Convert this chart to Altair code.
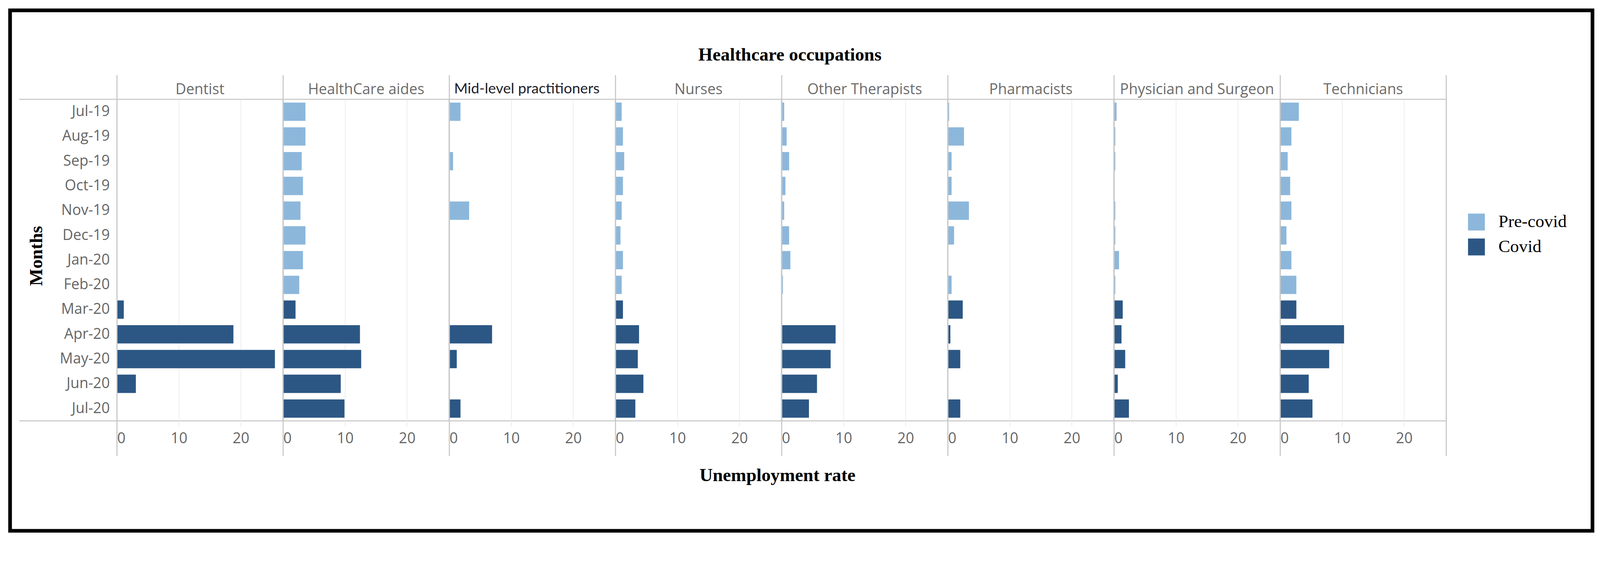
import altair as alt
import pandas as pd

# ---------------- data ----------------
occupations = [
    "Dentist", "HealthCare aides", "Mid-level practitioners", "Nurses",
    "Other Therapists", "Pharmacists", "Physician and Surgeon", "Technicians",
]
months = [
    "Jul-19", "Aug-19", "Sep-19", "Oct-19", "Nov-19", "Dec-19", "Jan-20",
    "Feb-20", "Mar-20", "Apr-20", "May-20", "Jun-20", "Jul-20",
]
periods = ["Pre-covid"] * 8 + ["Covid"] * 5
period_order = ["Pre-covid", "Covid"]

dentist = [None, None, None, None, None, None, None, None, 1.1, 18.8, 25.5, 3.05, None]
aides = [3.6, 3.6, 3.0, 3.2, 2.8, 3.6, 3.2, 2.6, 2.0, 12.4, 12.6, 9.3, 9.9]
midlevel = [1.8, None, 0.6, None, 3.2, None, None, None, None, 6.9, 1.2, None, 1.8]
nurses = [1.0, 1.2, 1.4, 1.2, 1.0, 0.8, 1.2, 1.0, 1.2, 3.8, 3.6, 4.5, 3.2]
therapists = [0.4, 0.8, 1.2, 0.6, 0.4, 1.2, 1.4, 0.2, None, 8.7, 7.9, 5.7, 4.4]
pharmacists = [0.2, 2.6, 0.6, 0.6, 3.4, 1.0, None, 0.6, 2.4, 0.4, 2.0, None, 2.0]
physicians = [0.4, 0.2, 0.2, None, 0.2, 0.2, 0.8, 0.2, 1.4, 1.2, 1.8, 0.6, 2.4]
technicians = [3.0, 1.8, 1.2, 1.6, 1.8, 1.0, 1.8, 2.6, 2.6, 10.3, 7.9, 4.6, 5.2]

series = [dentist, aides, midlevel, nurses, therapists, pharmacists, physicians, technicians]
tick_values = [0, 10, 20]
x_max = 26.8

chart_title = "Healthcare occupations"
x_title = "Unemployment rate"
y_title = "Months"

rows = []
for occ, vals in zip(occupations, series):
    for m, p, v in zip(months, periods, vals):
        rows.append({"occupation": occ, "month": m, "period": p, "rate": v})
df = pd.DataFrame(rows)

# ---------------- styling ----------------
W = 453.5
H = 878
LIGHT = "#8cb7db"
DARK = "#2c5784"
SEP = "#c8c8c8"
GRID = "#ececec"
SANS = "Open Sans"
SERIF = "Liberation Serif"
HEADER_GREY = "#6b6b6b"

base = alt.Chart()

bars = base.mark_bar().encode(
    x=alt.X(
        "rate:Q",
        scale=alt.Scale(domain=[0, x_max], nice=False, zero=True),
        axis=alt.Axis(values=tick_values, title=None, labelFlush=True),
    ),
    y=alt.Y(
        "month:N",
        sort=months,
        scale=alt.Scale(paddingInner=0.26, paddingOuter=0.13),
        axis=alt.Axis(title=y_title, titleY=427),
    ),
    color=alt.Color(
        "period:N",
        scale=alt.Scale(domain=period_order, range=[LIGHT, DARK]),
        legend=alt.Legend(
            title=None, orient="none", legendX=3690, legendY=311,
            symbolType="square", symbolSize=2116, symbolStrokeWidth=0,
            symbolOpacity=1, labelFont=SERIF, labelFontSize=48,
            labelColor="black", labelOffset=36, rowPadding=20, padding=0,
            labelLimit=400,
        ),
    ),
)

per_panel = base.transform_aggregate(n="count()", groupby=["occupation"])

separators = per_panel.mark_rule(color=SEP, strokeWidth=3).encode(
    x=alt.datum(0), y=alt.value(-66), y2=alt.value(H + 96)
)
right_edge = (
    per_panel.transform_filter(alt.datum.occupation == occupations[-1])
    .mark_rule(color=SEP, strokeWidth=3)
    .encode(x=alt.datum(x_max), y=alt.value(-66), y2=alt.value(H + 96))
)
first = per_panel.transform_filter(alt.datum.occupation == occupations[0])
left_top = first.mark_rule(color=SEP, strokeWidth=3).encode(
    x=alt.value(-267), x2=alt.value(0), y=alt.value(0)
)
left_bottom = first.mark_rule(color=SEP, strokeWidth=3).encode(
    x=alt.value(-267), x2=alt.value(0), y=alt.value(H)
)
frame = first.mark_rect(filled=False, stroke="black", strokeWidth=10).encode(
    x=alt.value(-292), x2=alt.value(4031), y=alt.value(-243), y2=alt.value(1178)
)

# column headers drawn as text in each panel
headers = (
    per_panel.transform_filter(alt.datum.occupation != occupations[2])
    .mark_text(font=SANS, fontSize=40, color=HEADER_GREY,
               baseline="alphabetic", align="center")
    .encode(x=alt.value(W / 2), y=alt.value(-14), text="occupation:N")
)
header_mid = (
    per_panel.transform_filter(alt.datum.occupation == occupations[2])
    .mark_text(font="Lato", fontSize=40, color="#1f1f2a",
               baseline="alphabetic", align="center")
    .encode(x=alt.value(W / 2 - 15), y=alt.value(-16), text="occupation:N")
)

center_panel = per_panel.transform_filter(alt.datum.occupation == occupations[3])
title_text = center_panel.mark_text(
    font=SERIF, fontSize=50, fontWeight="bold", color="black",
    baseline="alphabetic", align="center",
).encode(x=alt.value(W + 23), y=alt.value(-106), text=alt.value(chart_title))
xlabel = center_panel.mark_text(
    font=SERIF, fontSize=50, fontWeight="bold", color="black",
    baseline="middle", align="center",
).encode(x=alt.value(W - 11), y=alt.value(H + 149), text=alt.value(x_title))

layered = alt.layer(
    bars, separators, right_edge, left_top, left_bottom, frame,
    headers, header_mid, title_text, xlabel,
).properties(width=W, height=H)

chart = (
    layered.facet(
        column=alt.Column(
            "occupation:N",
            sort=occupations,
            title=None,
            header=alt.Header(labels=False),
        ),
        data=df,
        spacing=0,
    )
    .properties(bounds="flush", padding={"left": 12, "top": -33, "right": 5, "bottom": -40})
    .configure_view(stroke=SEP, strokeWidth=3)
    .configure_axisX(
        labelFont=SANS, labelFontSize=40, labelColor="#666666",
        domain=False, ticks=True, tickColor=GRID, tickSize=15, tickWidth=2,
        grid=True, gridColor=GRID, gridWidth=2, labelPadding=13,
    )
    .configure_axisY(
        labelFont=SANS, labelFontSize=40, labelColor="#666666",
        labelPadding=20, ticks=False, domain=False, grid=False,
        titleFont=SERIF, titleFontSize=50, titleFontWeight="bold",
        titleColor="black", titlePadding=38,
    )
)

chart.save("out.html", embed_options={"renderer": "svg", "actions": False})
